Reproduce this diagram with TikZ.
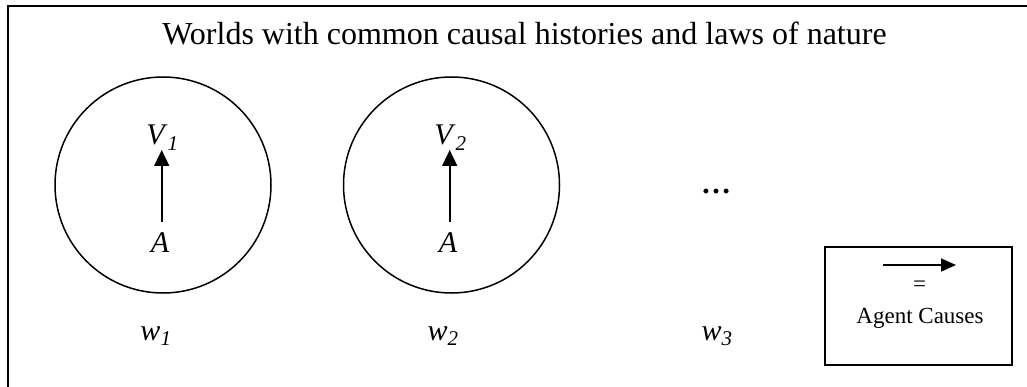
\documentclass[tikz,border=0pt]{standalone}
\usepackage{fontspec}
\setmainfont{Liberation Serif}
\usetikzlibrary{arrows.meta}
\tikzset{
  frame/.style={draw=black, line width=2.4pt},
  world/.style={draw=black, line width=1.5pt},
  legendbox/.style={draw=black, line width=2.6pt},
  arr/.style={line width=1.7pt, -{Triangle[length=16pt,width=15pt]}},
  legarr/.style={line width=1.7pt, -{Triangle[length=15pt,width=13pt]}},
  txt/.style={inner sep=0pt, anchor=base, font=\fontsize{30}{36}\selectfont},
  titletxt/.style={inner sep=0pt, anchor=base, font=\fontsize{32}{38}\selectfont},
  small/.style={inner sep=0pt, anchor=base, font=\fontsize{23}{28}\selectfont}
}
\begin{document}
\begin{tikzpicture}[x=1pt,y=-1pt]
\clip (0,0) rectangle (1027,387);
\fill[white] (0,0) rectangle (1027,387);
\draw[frame] (7.8,6.2) rectangle (1045,405);
\node[titletxt] (title) at (524.5,45) {Worlds with common causal histories and laws of nature};
% world 1
\draw[world] (163,185) circle (108);
\node[txt] (V1) at (162.5,145) {\textit{V}\textsubscript{\textit{1}}};
\node[txt] (A1) at (160,252) {\textit{A}};
\coordinate (s1) at (161.7,222);
\coordinate (t1) at (161.7,150);
\draw[arr] (s1) -- (t1);
% world 2
\draw[world] (451.5,185) circle (108);
\node[txt] (V2) at (450.5,145) {\textit{V}\textsubscript{\textit{2}}};
\node[txt] (A2) at (448,252) {\textit{A}};
\coordinate (s2) at (449.7,222);
\coordinate (t2) at (449.7,150);
\draw[arr] (s2) -- (t2);
% dots
\node[txt] (dots) at (716,194) {\textbf{…}};
% world labels
\node[txt] (w1) at (156,340) {\textit{w}\textsubscript{\textit{1}}};
\node[txt] (w2) at (443,340) {\textit{w}\textsubscript{\textit{2}}};
\node[txt] (w3) at (717,340) {\textit{w}\textsubscript{\textit{3}}};
% legend
\draw[legendbox] (825,247) rectangle (1012,365);
\coordinate (ls) at (883,265);
\coordinate (le) at (956,265);
\draw[legarr] (ls) -- (le);
\node[small, anchor=center] (eq) at (919.5,286.5) {=};
\node[small] (ac) at (920,323) {Agent Causes};
\end{tikzpicture}
\end{document}
